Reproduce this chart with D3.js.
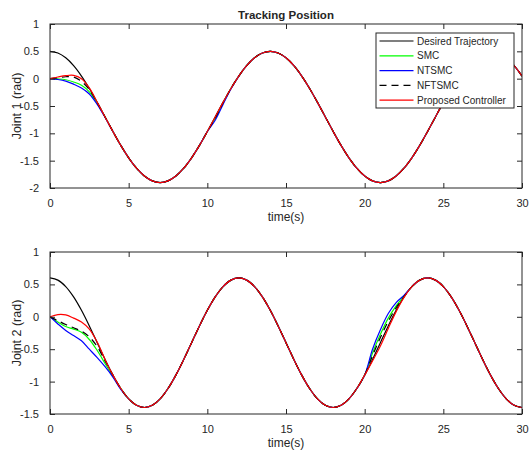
<!DOCTYPE html>
<html>
<head>
<meta charset="utf-8">
<script src="https://cdn.jsdelivr.net/npm/d3@7"></script>
<style>
  body { margin: 0; background: #fff; }
  svg text { font-family: "Liberation Sans", Arial, sans-serif; fill: #262626; }
</style>
</head>
<body>
<div id="chart"></div>
<script>
// time grid, 0.5 s steps from 0 to 30
const time = d3.range(0, 30.001, 0.5);

// Joint 1 (rad)
const desired1 = [0.5, 0.470, 0.381, 0.238, 0.048, -0.179, -0.433, -0.700, -0.967, -1.221, -1.448, -1.638, -1.781, -1.870, -1.900,
  -1.870, -1.781, -1.638, -1.448, -1.221, -0.967, -0.700, -0.433, -0.179, 0.048, 0.238, 0.381, 0.470, 0.500,
  0.470, 0.381, 0.238, 0.048, -0.179, -0.433, -0.700, -0.967, -1.221, -1.448, -1.638, -1.781, -1.870, -1.900,
  -1.870, -1.781, -1.638, -1.448, -1.221, -0.967, -0.700, -0.433, -0.179, 0.048, 0.238, 0.381, 0.470, 0.500,
  0.470, 0.381, 0.238, 0.048];
// controller outputs differ from the reference only at the start and around t = 10.5 s
const smcStart1 = [0, -0.005, -0.02, -0.06, -0.12, -0.24, -0.45];
const ntsmcStart1 = [0, -0.015, -0.045, -0.10, -0.17, -0.28, -0.47, -0.71];
const nftsmcStart1 = [0, 0.015, 0.035, 0.03, -0.05, -0.20, -0.44];
const propStart1 = [0, 0.03, 0.055, 0.06, 0.0, -0.17, -0.43];
const smcBump1 = {21: -0.73, 22: -0.45};
const ntsmcBump1 = {21: -0.76, 22: -0.47, 23: -0.19};
const nftsmcBump1 = {21: -0.72, 22: -0.44};
const propBump1 = {};

// Joint 2 (rad)
const desired2 = [0.600, 0.566, 0.466, 0.307, 0.100, -0.141, -0.400, -0.659, -0.900, -1.107, -1.266, -1.366, -1.400,
  -1.366, -1.266, -1.107, -0.900, -0.659, -0.400, -0.141, 0.100, 0.307, 0.466, 0.566, 0.600,
  0.566, 0.466, 0.307, 0.100, -0.141, -0.400, -0.659, -0.900, -1.107, -1.266, -1.366, -1.400,
  -1.366, -1.266, -1.107, -0.900, -0.659, -0.400, -0.141, 0.100, 0.307, 0.466, 0.566, 0.600,
  0.566, 0.466, 0.307, 0.100, -0.141, -0.400, -0.659, -0.900, -1.107, -1.266, -1.366, -1.400];
const smcStart2 = [0, -0.08, -0.15, -0.19, -0.24, -0.35, -0.52, -0.72, -0.92, -1.107];
const ntsmcStart2 = [0, -0.11, -0.21, -0.29, -0.37, -0.50, -0.63, -0.77, -0.93, -1.12, -1.266];
const nftsmcStart2 = [0, -0.06, -0.12, -0.17, -0.22, -0.31, -0.46, -0.68, -0.90];
const propStart2 = [0, 0.035, 0.03, -0.02, -0.08, -0.19, -0.39];
const smcBump2 = {41: -0.56, 42: -0.27, 43: -0.02, 44: 0.17, 45: 0.32};
const ntsmcBump2 = {41: -0.50, 42: -0.20, 43: 0.05, 44: 0.22, 45: 0.33};
const nftsmcBump2 = {41: -0.60, 42: -0.32, 43: -0.07, 44: 0.14, 45: 0.31};
const propBump2 = {41: -0.68, 42: -0.45, 43: -0.18, 44: 0.08, 45: 0.30};

const seriesNames = ["Desired Trajectory", "SMC", "NTSMC", "NFTSMC", "Proposed Controller"];
const seriesColors = ["#000000", "#00ff00", "#0000ff", "#000000", "#ff0000"];
const seriesDash = [null, null, null, "7,5", null];

const xTicks = [0, 5, 10, 15, 20, 25, 30];
const yTicks1 = [-2, -1.5, -1, -0.5, 0, 0.5, 1];
const yTicks2 = [-1.5, -1, -0.5, 0, 0.5, 1];

// build a full series from the reference plus its own deviations
function build(desired, start, bump) {
  return desired.map((v, i) => i < start.length ? start[i] : (bump[i] !== undefined ? bump[i] : v));
}

const width = 529, height = 452;
const svg = d3.select("#chart").append("svg")
  .attr("width", width)
  .attr("height", height);

function panel(opts) {
  const x = d3.scaleLinear().domain([0, 30]).range([50, 522]);
  const y = d3.scaleLinear().domain(opts.yDomain).range([opts.bottom, opts.top]);
  const g = svg.append("g");

  const clipId = "clip" + opts.id;
  svg.append("clipPath").attr("id", clipId)
    .append("rect")
    .attr("x", 50).attr("y", opts.top)
    .attr("width", 472).attr("height", opts.bottom - opts.top);

  const line = d3.line()
    .x((d, i) => x(time[i]))
    .y(d => y(d))
    .curve(d3.curveCatmullRom.alpha(0.5));

  g.append("g").attr("clip-path", `url(#${clipId})`)
    .selectAll("path")
    .data(opts.series)
    .join("path")
    .attr("d", d => line(d))
    .attr("fill", "none")
    .attr("stroke", (d, i) => seriesColors[i])
    .attr("stroke-width", 1.2)
    .attr("stroke-dasharray", (d, i) => seriesDash[i]);

  const fmt = d => String(d);
  g.append("g")
    .attr("transform", `translate(0,${opts.bottom})`)
    .call(d3.axisBottom(x).tickValues(xTicks).tickFormat(fmt).tickSizeInner(-5).tickSizeOuter(0).tickPadding(11));
  g.append("g")
    .attr("transform", `translate(0,${opts.top})`)
    .call(d3.axisTop(x).tickValues(xTicks).tickFormat("").tickSizeInner(-5).tickSizeOuter(0));
  g.append("g")
    .attr("transform", "translate(50,0)")
    .call(d3.axisLeft(y).tickValues(opts.yTicks).tickFormat(fmt).tickSizeInner(-5).tickSizeOuter(0).tickPadding(11));
  g.append("g")
    .attr("transform", "translate(522,0)")
    .call(d3.axisRight(y).tickValues(opts.yTicks).tickFormat("").tickSizeInner(-5).tickSizeOuter(0));

  g.selectAll(".domain").remove();
  g.selectAll(".tick line").attr("stroke", "#262626");
  g.selectAll(".tick text").attr("font-size", 11).attr("fill", "#262626");

  g.append("rect")
    .attr("x", 50).attr("y", opts.top)
    .attr("width", 472).attr("height", opts.bottom - opts.top)
    .attr("fill", "none")
    .attr("stroke", "#262626")
    .attr("stroke-width", 1);

  g.append("text")
    .attr("x", 286).attr("y", opts.bottom + 33)
    .attr("text-anchor", "middle")
    .attr("font-size", 12)
    .text("time(s)");

  g.append("text")
    .attr("transform", `translate(21,${(opts.top + opts.bottom) / 2}) rotate(-90)`)
    .attr("text-anchor", "middle")
    .attr("font-size", 12.5)
    .text(opts.yLabel);
  return g;
}

panel({
  id: 1, top: 24, bottom: 188, yDomain: [-2, 1], yTicks: yTicks1, yLabel: "Joint 1 (rad)",
  series: [desired1,
    build(desired1, smcStart1, smcBump1),
    build(desired1, ntsmcStart1, ntsmcBump1),
    build(desired1, nftsmcStart1, nftsmcBump1),
    build(desired1, propStart1, propBump1)]
});

panel({
  id: 2, top: 252, bottom: 414, yDomain: [-1.5, 1], yTicks: yTicks2, yLabel: "Joint 2 (rad)",
  series: [desired2,
    build(desired2, smcStart2, smcBump2),
    build(desired2, ntsmcStart2, ntsmcBump2),
    build(desired2, nftsmcStart2, nftsmcBump2),
    build(desired2, propStart2, propBump2)]
});

svg.append("text")
  .attr("x", 286).attr("y", 19)
  .attr("text-anchor", "middle")
  .attr("font-size", 11.5)
  .attr("font-weight", "bold")
  .attr("fill", "#000")
  .text("Tracking Position");

// legend
const legend = svg.append("g").attr("transform", "translate(376,33)");
legend.append("rect")
  .attr("width", 138).attr("height", 75)
  .attr("fill", "#fff")
  .attr("stroke", "#262626");
const item = legend.selectAll("g.item")
  .data(seriesNames)
  .join("g")
  .attr("class", "item")
  .attr("transform", (d, i) => `translate(0,${8 + i * 14.8})`);
item.append("line")
  .attr("x1", 3.5).attr("x2", 37.5)
  .attr("stroke", (d, i) => seriesColors[i])
  .attr("stroke-width", 1.2)
  .attr("stroke-dasharray", (d, i) => seriesDash[i]);
item.append("text")
  .attr("x", 41).attr("dy", "0.35em")
  .attr("font-size", 10)
  .attr("fill", "#000")
  .text(d => d);
</script>
</body>
</html>
